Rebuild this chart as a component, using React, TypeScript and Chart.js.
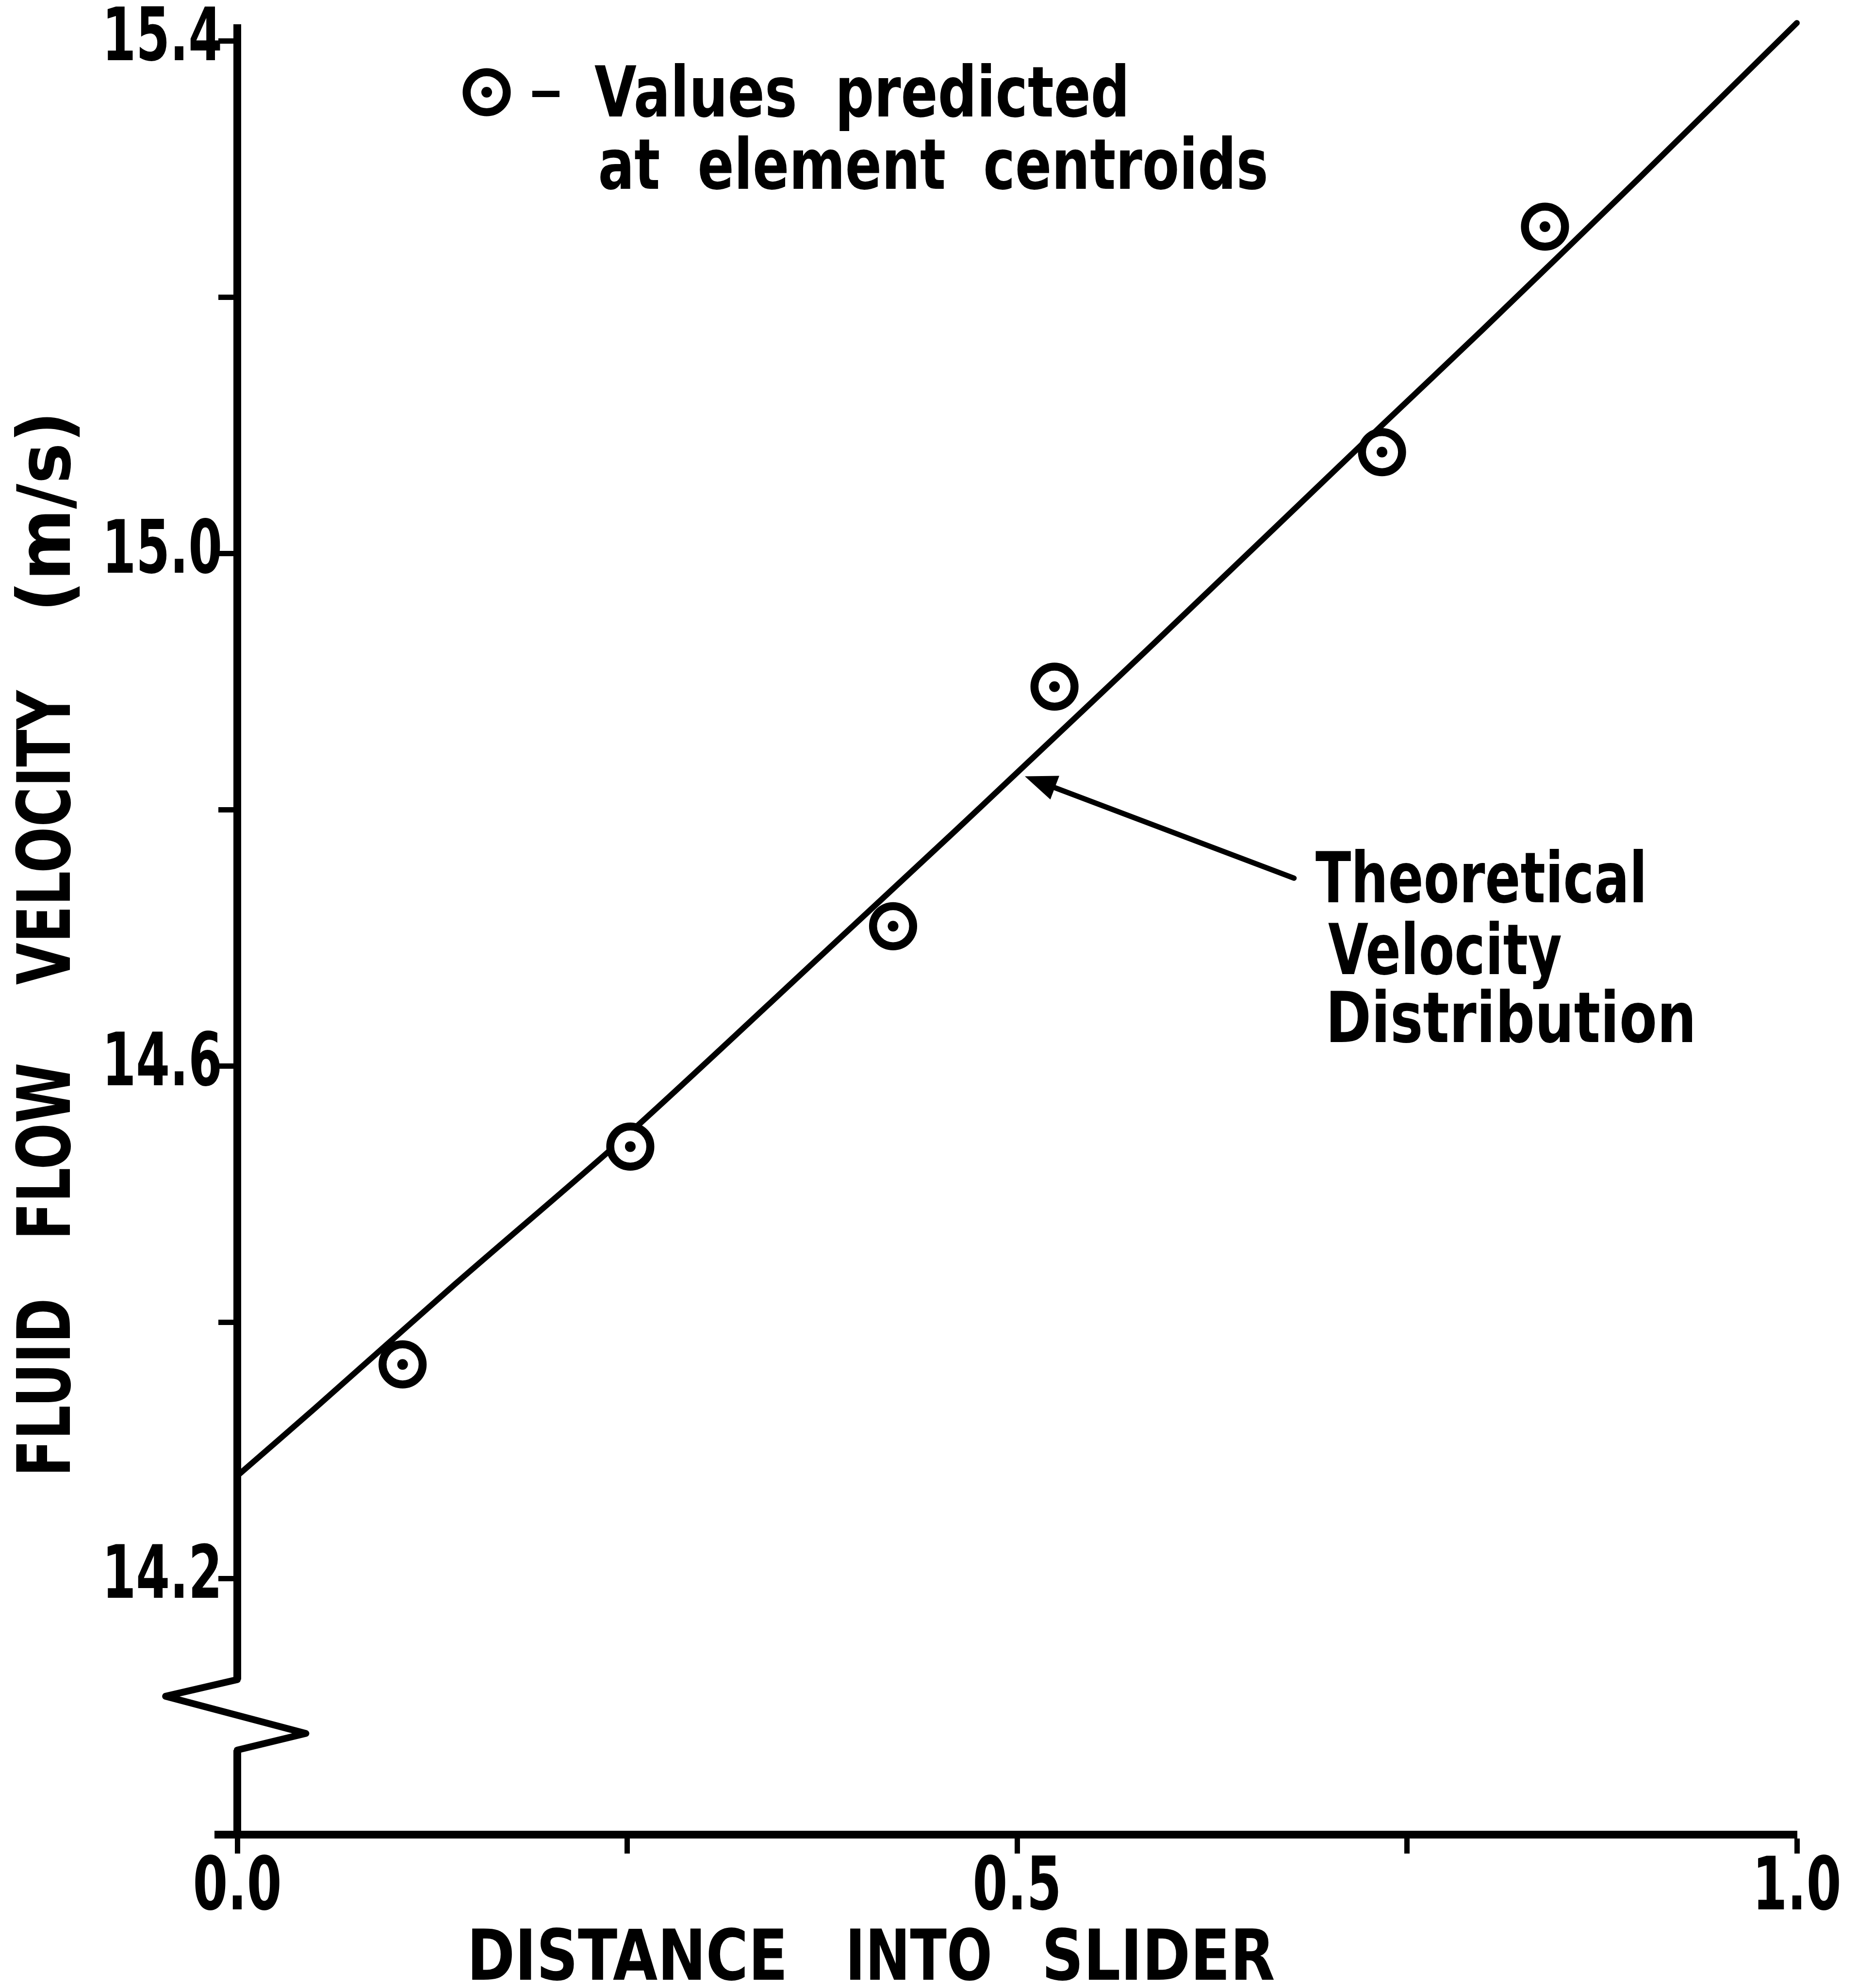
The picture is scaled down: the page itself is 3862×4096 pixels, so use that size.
import React, { useEffect, useRef } from 'react';
import { Chart, registerables, LinearScale } from 'chart.js';

const W = 3862;
const H = 4096;

// Theoretical velocity distribution
const lineX = [0, 0.05, 0.14, 0.25, 0.376, 0.46, 0.494, 0.588, 0.734, 0.798, 0.899, 1.0];
const lineY = [14.28, 14.333, 14.43, 14.546, 14.688, 14.783, 14.822, 14.93, 15.1, 15.174, 15.293, 15.414];

// Values predicted at element centroids
const centroidX = [0.106, 0.252, 0.4205, 0.524, 0.734, 0.8385];
const centroidY = [14.367, 14.537, 14.709, 14.896, 15.079, 15.255];

// Axes
const xTicks = [0, 0.25, 0.5, 0.75, 1.0];
const xTickLabels = ['0.0', '', '0.5', '', '1.0'];
const yTicks = [14.2, 14.4, 14.6, 14.8, 15.0, 15.2, 15.4];
const yTickLabels = ['14.2', '', '14.6', '', '15.0', '', '15.4'];
const xMin = 0;
const xMax = 1.0;
const yMin = 14.0;
const yMax = 15.41;

// Texts
const xTitleWords = ['DISTANCE', 'INTO', 'SLIDER'];
const yTitleWords = ['FLUID', 'FLOW', 'VELOCITY', '(m/s)'];
const legendLines = ['Values  predicted', 'at  element  centroids'];
const annotationLines = ['Theoretical', 'Velocity', 'Distribution'];

// Axis break (zigzag) and arrow anchor, in data units
const breakX = [0, -0.046, 0.044, 0];
const breakY = [14.121, 14.108, 14.079, 14.066];
const arrowTip = { x: 0.505, y: 14.826 };
const arrowTail = { x: 0.6776, y: 14.7465 };

const TEXT_FONT = '"DejaVu Sans", "Liberation Sans", sans-serif';
const TICK_FONT = '"DejaVu Sans", "Liberation Sans", sans-serif';
const TICK_SQUEEZE: Record<string, number> = { x: 0.68, y: 0.66 };

// Linear scale whose tick labels are drawn horizontally condensed (narrow lettering)
class NarrowLinearScale extends LinearScale {
  static id = 'narrowLinear';
  drawLabels(chartArea: any) {
    const opts: any = (this as any).options;
    if (!opts.ticks.display) return;
    const ctx: CanvasRenderingContext2D = (this as any).ctx;
    const squeeze = TICK_SQUEEZE[(this as any).id] ?? 1;
    const items = (this as any).getLabelItems(chartArea);
    for (const item of items) {
      const o = item.options;
      const lines = Array.isArray(item.label) ? item.label : [item.label];
      ctx.save();
      ctx.font = item.font.string;
      ctx.fillStyle = o.color;
      ctx.textAlign = o.textAlign;
      ctx.textBaseline = o.textBaseline;
      ctx.translate(o.translation[0], o.translation[1]);
      if (o.rotation) ctx.rotate(o.rotation);
      ctx.scale(squeeze, 1);
      let y = item.textOffset;
      for (const line of lines) {
        ctx.fillText(String(line), 0, y);
        y += item.font.lineHeight;
      }
      ctx.restore();
    }
  }
}

Chart.register(...registerables, NarrowLinearScale);

function fitText(ctx: CanvasRenderingContext2D, text: string, left: number, baseline: number, width: number, size: number, angle = 0) {
  ctx.save();
  ctx.font = `bold ${size}px ${TEXT_FONT}`;
  ctx.textAlign = 'left';
  ctx.textBaseline = 'alphabetic';
  ctx.fillStyle = '#000';
  const m = ctx.measureText(text);
  const ink = m.actualBoundingBoxLeft + m.actualBoundingBoxRight;
  ctx.translate(left, baseline);
  if (angle) ctx.rotate(angle);
  ctx.scale(width / ink, 1);
  ctx.fillText(text, m.actualBoundingBoxLeft, 0);
  ctx.restore();
}

const overlay = {
  id: 'overlay',
  afterDraw(chart: any) {
    const ctx: CanvasRenderingContext2D = chart.ctx;
    const xs = chart.scales.x;
    const ys = chart.scales.y;
    ctx.save();
    ctx.strokeStyle = '#000';
    ctx.fillStyle = '#000';

    // x-axis extension to the left of the y-axis
    const axisY = xs.top;
    ctx.lineWidth = 16;
    ctx.beginPath();
    ctx.moveTo(xs.left - 47, axisY);
    ctx.lineTo(xs.left, axisY);
    ctx.stroke();

    // axis break
    const bp = breakX.map((v, i) => ({ x: xs.getPixelForValue(v), y: ys.getPixelForValue(breakY[i]) }));
    ctx.fillStyle = '#fff';
    ctx.fillRect(bp[0].x - 14, bp[0].y, 28, bp[3].y - bp[0].y);
    ctx.fillStyle = '#000';
    ctx.lineWidth = 14;
    ctx.lineJoin = 'round';
    ctx.lineCap = 'butt';
    ctx.beginPath();
    ctx.moveTo(bp[0].x, bp[0].y - 4);
    ctx.lineTo(bp[0].x, bp[0].y);
    ctx.lineTo(bp[1].x, bp[1].y);
    ctx.lineTo(bp[2].x, bp[2].y);
    ctx.lineTo(bp[3].x, bp[3].y);
    ctx.lineTo(bp[3].x, bp[3].y + 4);
    ctx.stroke();

    // legend marker
    const lx = 1003, ly = 190;
    ctx.lineWidth = 16.5;
    ctx.beginPath();
    ctx.arc(lx, ly, 41.3, 0, Math.PI * 2);
    ctx.stroke();
    ctx.beginPath();
    ctx.arc(lx, ly, 11, 0, Math.PI * 2);
    ctx.fill();
    ctx.fillRect(1097, 187, 56, 13);

    fitText(ctx, legendLines[0], 1225, 240, 1094, 145);
    fitText(ctx, legendLines[1], 1237, 389, 1372, 145);

    // annotation arrow
    const tx = xs.getPixelForValue(arrowTip.x), ty = ys.getPixelForValue(arrowTip.y);
    const sx = xs.getPixelForValue(arrowTail.x), sy = ys.getPixelForValue(arrowTail.y);
    const ang = Math.atan2(ty - sy, tx - sx);
    const headLen = 66, headHalf = 26;
    const bx = tx - Math.cos(ang) * headLen, by = ty - Math.sin(ang) * headLen;
    ctx.lineWidth = 11;
    ctx.lineCap = 'round';
    ctx.beginPath();
    ctx.moveTo(sx, sy);
    ctx.lineTo(bx, by);
    ctx.stroke();
    ctx.beginPath();
    ctx.moveTo(tx, ty);
    ctx.lineTo(bx + Math.sin(ang) * headHalf, by - Math.cos(ang) * headHalf);
    ctx.lineTo(bx - Math.sin(ang) * headHalf, by + Math.cos(ang) * headHalf);
    ctx.closePath();
    ctx.fill();

    fitText(ctx, annotationLines[0], 2711, 1859, 675, 145);
    fitText(ctx, annotationLines[1], 2737, 2007, 480, 145);
    fitText(ctx, annotationLines[2], 2742, 2147, 745, 145);

    // x-axis title
    const xWordSpans = [[973, 1615], [1752, 2040], [2155, 2625]];
    xTitleWords.forEach((w, i) => fitText(ctx, w, xWordSpans[i][0], 4079, xWordSpans[i][1] - xWordSpans[i][0], 144));

    // y-axis title (rotated, reads bottom to top)
    const yWordSpans = [[2680, 3033], [2193, 2545], [1421, 2029], [859, 1249]];
    yTitleWords.forEach((w, i) => fitText(ctx, w, 144, yWordSpans[i][1], yWordSpans[i][1] - yWordSpans[i][0], 152, -Math.PI / 2));

    ctx.restore();
  },
};

function labelFor(values: number[], labels: string[], v: number) {
  const k = values.findIndex((t) => Math.abs(t - v) < 1e-6);
  return k >= 0 ? labels[k] : '';
}

export default function App() {
  const ref = useRef<HTMLCanvasElement | null>(null);

  useEffect(() => {
    document.body.style.margin = '0';
    document.body.style.background = '#fff';
    const canvas = ref.current;
    if (!canvas) return;
    const tickFont = { family: TICK_FONT, size: 152, weight: 'bold' as const, lineHeight: 1 };
    const axisGrid = {
      display: true,
      drawOnChartArea: false,
      drawTicks: true,
      tickLength: 39,
      tickWidth: 11,
      tickColor: '#000',
      color: '#000',
    };
    const chart = new Chart(canvas, {
      type: 'scatter',
      data: {
        datasets: [
          {
            type: 'line',
            label: 'Theoretical Velocity Distribution',
            data: lineX.map((x, i) => ({ x, y: lineY[i] })),
            borderColor: '#000',
            borderWidth: 12,
            pointRadius: 0,
            fill: false,
            tension: 0.3,
            borderCapStyle: 'round',
            borderJoinStyle: 'round',
            clip: false,
            order: 3,
          } as any,
          {
            label: 'Values predicted at element centroids',
            data: centroidX.map((x, i) => ({ x, y: centroidY[i] })),
            pointStyle: 'circle',
            pointRadius: 41.3,
            pointBorderWidth: 16.5,
            pointBorderColor: '#000',
            pointBackgroundColor: '#fff',
            showLine: false,
            order: 2,
          },
          {
            label: 'centroid dots',
            data: centroidX.map((x, i) => ({ x, y: centroidY[i] })),
            pointStyle: 'circle',
            pointRadius: 11,
            pointBorderWidth: 0,
            pointBackgroundColor: '#000',
            showLine: false,
            order: 1,
          },
        ],
      },
      options: {
        responsive: false,
        animation: false,
        devicePixelRatio: 1,
        layout: { padding: { top: 57, right: 159, left: 0, bottom: 0 } },
        plugins: { legend: { display: false }, tooltip: { enabled: false }, title: { display: false } },
        scales: {
          x: {
            type: 'narrowLinear',
            position: 'bottom',
            min: xMin,
            max: xMax,
            afterBuildTicks: (s: any) => {
              s.ticks = xTicks.map((v) => ({ value: v }));
            },
            afterFit: (s: any) => {
              s.height = H - 3780;
              s.paddingLeft = 0;
              s.paddingRight = 0;
            },
            ticks: {
              autoSkip: false,
              maxRotation: 0,
              padding: 0,
              color: '#000',
              font: tickFont,
              callback: (v: any) => labelFor(xTicks, xTickLabels, Number(v)),
            },
            grid: axisGrid,
            border: { display: true, color: '#000', width: 16 },
          },
          y: {
            type: 'narrowLinear',
            position: 'left',
            min: yMin,
            max: yMax,
            afterBuildTicks: (s: any) => {
              s.ticks = yTicks.map((v) => ({ value: v }));
            },
            afterFit: (s: any) => {
              s.width = 489;
              s.paddingTop = 0;
              s.paddingBottom = 0;
            },
            ticks: {
              autoSkip: false,
              padding: -8,
              color: '#000',
              font: tickFont,
              callback: (v: any) => labelFor(yTicks, yTickLabels, Number(v)),
            },
            grid: axisGrid,
            border: { display: true, color: '#000', width: 16 },
          },
        },
      } as any,
      plugins: [overlay],
    });
    return () => chart.destroy();
  }, []);

  return (
    <div style={{ width: W, height: H, background: '#fff' }}>
      <canvas ref={ref} width={W} height={H} style={{ display: 'block', width: W, height: H }} />
    </div>
  );
}
